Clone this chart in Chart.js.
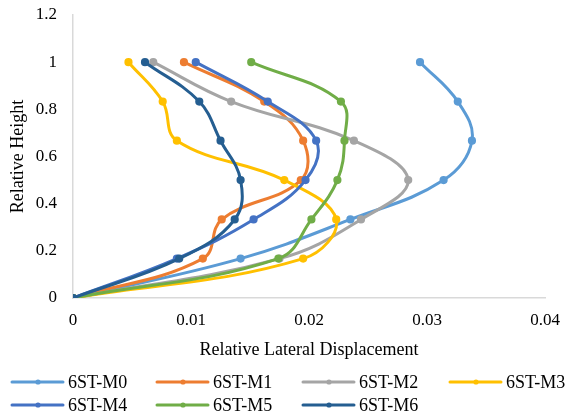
<!DOCTYPE html>
<html>
<head>
<meta charset="utf-8">
<script src="https://cdn.jsdelivr.net/npm/chart.js@4"></script>
<style>
  body { margin: 0; background: #fff; }
  #wrap { width: 572px; height: 416px; }
</style>
</head>
<body>
<div id="wrap"><canvas id="chart"></canvas></div>
<script>
// relative height levels (storeys of a 6 storey frame)
const heights = [0, 0.167, 0.333, 0.5, 0.667, 0.833, 1];

const seriesNames = ['6ST-M0', '6ST-M1', '6ST-M2', '6ST-M3', '6ST-M4', '6ST-M5', '6ST-M6'];
const seriesColors = ['#5B9BD5', '#ED7D31', '#A5A5A5', '#FFC000', '#4472C4', '#70AD47', '#255E91'];

// relative lateral displacement, one value per height level
const m0 = [0, 0.0142, 0.0235, 0.0314, 0.0338, 0.0326, 0.0294];
const m1 = [0, 0.0110, 0.0126, 0.0193, 0.0195, 0.0162, 0.0094];
const m2 = [0, 0.0175, 0.0244, 0.0284, 0.0238, 0.0134, 0.0068];
const m3 = [0, 0.0195, 0.0223, 0.0179, 0.0088, 0.0076, 0.0047];
const m4 = [0, 0.0088, 0.0153, 0.0197, 0.0206, 0.0165, 0.0104];
const m5 = [0, 0.0174, 0.0202, 0.0224, 0.0230, 0.0227, 0.0151];
const m6 = [0, 0.0090, 0.0137, 0.0142, 0.0125, 0.0107, 0.0061];
const allSeries = [m0, m1, m2, m3, m4, m5, m6];

const FONT = "'Liberation Serif', 'Times New Roman', serif";

// Excel puts later series on top, Chart.js puts the lowest order on top
const datasets = allSeries.map((vals, i) => ({
    label: seriesNames[i],
    data: vals.map((v, j) => ({ x: v, y: heights[j] })),
    borderColor: seriesColors[i],
    backgroundColor: seriesColors[i],
    borderWidth: 3,
    pointRadius: 2.6,
    pointHoverRadius: 2.6,
    showLine: true,
    tension: 0.4,
    order: allSeries.length - i
}));

// Excel style legend: line with a dot in the middle, 4 columns
const excelLegend = {
    id: 'excelLegend',
    afterDraw(chart) {
        const c = chart.ctx;
        const colX = [12, 157, 303, 450];
        c.save();
        c.font = '18px ' + FONT;
        c.textBaseline = 'middle';
        seriesNames.forEach((name, i) => {
            const x = colX[i % 4];
            const y = 382 + Math.floor(i / 4) * 23;
            c.strokeStyle = seriesColors[i];
            c.lineWidth = 3;
            c.lineCap = 'round';
            c.beginPath();
            c.moveTo(x, y);
            c.lineTo(x + 51, y);
            c.stroke();
            c.fillStyle = seriesColors[i];
            c.beginPath();
            c.arc(x + 26, y, 2.6, 0, Math.PI * 2);
            c.fill();
            c.fillStyle = '#000';
            c.fillText(name, x + 56, y + 1);
        });
        c.restore();
    }
};

const trimNum = v => String(parseFloat(Number(v).toFixed(4)));

new Chart(document.getElementById('chart'), {
    type: 'scatter',
    data: { datasets: datasets },
    options: {
        responsive: true,
        maintainAspectRatio: false,
        animation: false,
        layout: { padding: { top: 0, right: 4, bottom: 55, left: 0 } },
        plugins: {
            legend: { display: false },
            tooltip: { enabled: false }
        },
        scales: {
            x: {
                min: 0, max: 0.04,
                afterFit: s => { s.height = 63; },
                grid: { display: false, drawTicks: false },
                border: { color: '#D9D9D9', width: 1.5 },
                ticks: { stepSize: 0.01, color: '#000', padding: 12, font: { family: FONT, size: 17 }, callback: trimNum },
                title: { display: true, text: 'Relative Lateral Displacement', color: '#000', padding: { top: 9, bottom: 0 }, font: { family: FONT, size: 18 } }
            },
            y: {
                min: 0, max: 1.2,
                afterFit: s => { s.width = 73; s.paddingTop = 15; },
                grid: { display: false, drawTicks: false },
                border: { color: '#D9D9D9', width: 1.5 },
                ticks: { stepSize: 0.2, color: '#000', padding: 16, font: { family: FONT, size: 17 }, callback: trimNum },
                title: { display: true, text: 'Relative Height', color: '#000', padding: { top: 7, bottom: 7 }, font: { family: FONT, size: 18 } }
            }
        }
    },
    plugins: [excelLegend]
});
</script>
</body>
</html>
